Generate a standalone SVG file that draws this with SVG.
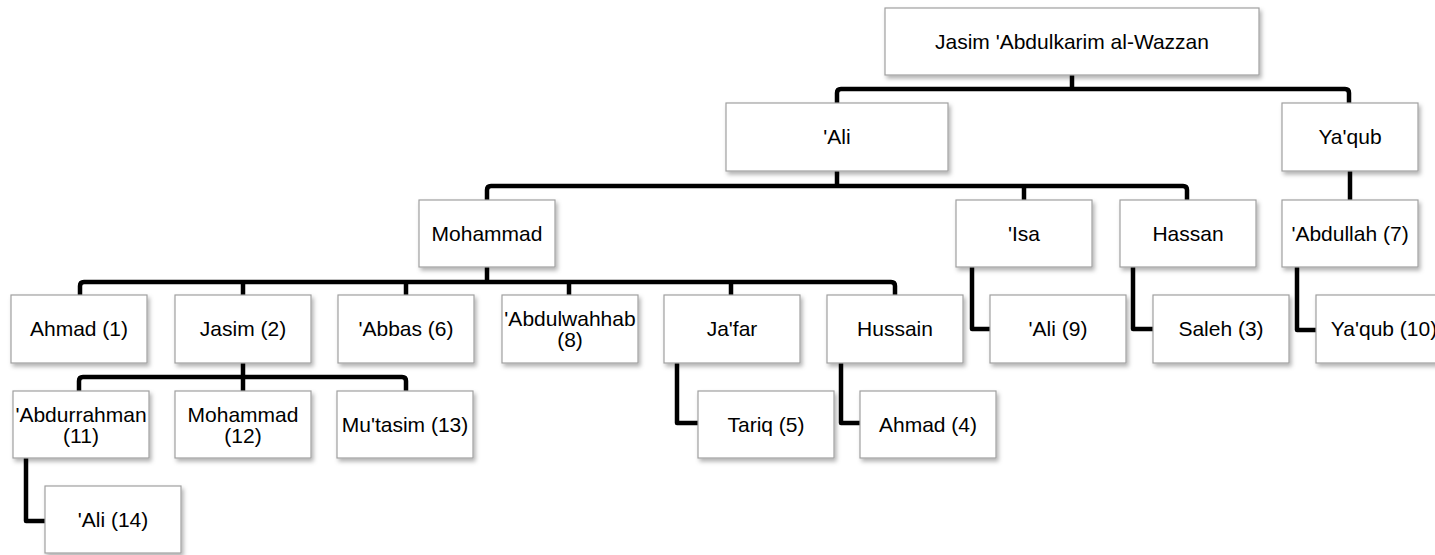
<svg xmlns="http://www.w3.org/2000/svg" width="1435" height="555" viewBox="0 0 1435 555">
<defs>
<filter id="sh" x="-10%" y="-10%" width="130%" height="140%">
<feDropShadow dx="2" dy="3" stdDeviation="2" flood-color="#000" flood-opacity="0.3"/>
</filter>
<style>
.box{fill:#fff;stroke:#a0a0a0;stroke-width:1.2;filter:url(#sh)}
.t{font-family:"Liberation Sans",Arial,sans-serif;font-size:21px;fill:#000;text-anchor:middle}
.c{fill:none;stroke:#000;stroke-width:4.5;stroke-linejoin:round;stroke-linecap:butt}
</style>
</defs>
<rect width="1435" height="555" fill="#fff"/>
<g id="connectors">
<path class="c" d="M1072,75 V89"/>
<path class="c" d="M837,103 V93 Q837,89 841,89 H1345 Q1349,89 1349,93 V103"/>
<path class="c" d="M837,171 V186"/>
<path class="c" d="M487,200 V190 Q487,186 491,186 H1183 Q1187,186 1187,190 V200"/>
<path class="c" d="M1024,186 V200"/>
<path class="c" d="M1350,171 V200"/>
<path class="c" d="M487,267 V282"/>
<path class="c" d="M80,295 V286 Q80,282 84,282 H891 Q895,282 895,286 V295"/>
<path class="c" d="M243,282 V295 M406,282 V295 M569,282 V295 M731,282 V295"/>
<path class="c" d="M243,363 V377"/>
<path class="c" d="M79,391 V381 Q79,377 83,377 H402 Q406,377 406,381 V391"/>
<path class="c" d="M243,377 V391"/>
<path class="c" d="M972,267 V329 H990"/>
<path class="c" d="M1133,267 V329 H1153"/>
<path class="c" d="M1297,267 V330 H1316"/>
<path class="c" d="M677,363 V423 H698"/>
<path class="c" d="M841,363 V423 H860"/>
<path class="c" d="M26,458 V521 H45"/>
</g>
<g id="n-root"><rect class="box" x="885" y="8" width="374" height="67"/><text class="t" x="1072" y="49">Jasim 'Abdulkarim al-Wazzan</text></g>
<g id="n-ali"><rect class="box" x="726" y="103" width="222" height="68"/><text class="t" x="837" y="144">'Ali</text></g>
<g id="n-yaqub"><rect class="box" x="1282" y="103" width="136" height="68"/><text class="t" x="1350" y="144">Ya'qub</text></g>
<g id="n-mohammad"><rect class="box" x="419" y="200" width="136" height="67"/><text class="t" x="487" y="241">Mohammad</text></g>
<g id="n-isa"><rect class="box" x="956" y="200" width="136" height="67"/><text class="t" x="1024" y="241">'Isa</text></g>
<g id="n-hassan"><rect class="box" x="1120" y="200" width="136" height="67"/><text class="t" x="1188" y="241">Hassan</text></g>
<g id="n-abdullah7"><rect class="box" x="1282" y="200" width="136" height="67"/><text class="t" x="1350" y="241">'Abdullah (7)</text></g>
<g id="n-ahmad1"><rect class="box" x="11" y="295" width="136" height="68"/><text class="t" x="79" y="336">Ahmad (1)</text></g>
<g id="n-jasim2"><rect class="box" x="175" y="295" width="136" height="68"/><text class="t" x="243" y="336">Jasim (2)</text></g>
<g id="n-abbas6"><rect class="box" x="338" y="295" width="136" height="68"/><text class="t" x="406" y="336">'Abbas (6)</text></g>
<g id="n-abdulwahhab8"><rect class="box" x="502" y="295" width="136" height="68"/><text class="t" x="570" y="326">'Abdulwahhab</text><text class="t" x="570" y="347">(8)</text></g>
<g id="n-jafar"><rect class="box" x="664" y="295" width="136" height="68"/><text class="t" x="732" y="336">Ja'far</text></g>
<g id="n-hussain"><rect class="box" x="827" y="295" width="136" height="68"/><text class="t" x="895" y="336">Hussain</text></g>
<g id="n-ali9"><rect class="box" x="990" y="295" width="136" height="68"/><text class="t" x="1058" y="336">'Ali (9)</text></g>
<g id="n-saleh3"><rect class="box" x="1153" y="295" width="136" height="68"/><text class="t" x="1221" y="336">Saleh (3)</text></g>
<g id="n-yaqub10"><rect class="box" x="1316" y="295" width="136" height="68"/><text class="t" x="1384" y="336">Ya'qub (10)</text></g>
<g id="n-abdurrahman11"><rect class="box" x="13" y="391" width="136" height="67"/><text class="t" x="81" y="422">'Abdurrahman</text><text class="t" x="81" y="443">(11)</text></g>
<g id="n-mohammad12"><rect class="box" x="175" y="391" width="136" height="67"/><text class="t" x="243" y="422">Mohammad</text><text class="t" x="243" y="443">(12)</text></g>
<g id="n-mutasim13"><rect class="box" x="337" y="391" width="136" height="67"/><text class="t" x="405" y="432">Mu'tasim (13)</text></g>
<g id="n-tariq5"><rect class="box" x="698" y="391" width="136" height="67"/><text class="t" x="766" y="432">Tariq (5)</text></g>
<g id="n-ahmad4"><rect class="box" x="860" y="391" width="136" height="67"/><text class="t" x="928" y="432">Ahmad (4)</text></g>
<g id="n-ali14"><rect class="box" x="45" y="486" width="136" height="67"/><text class="t" x="113" y="527">'Ali (14)</text></g>
</svg>
